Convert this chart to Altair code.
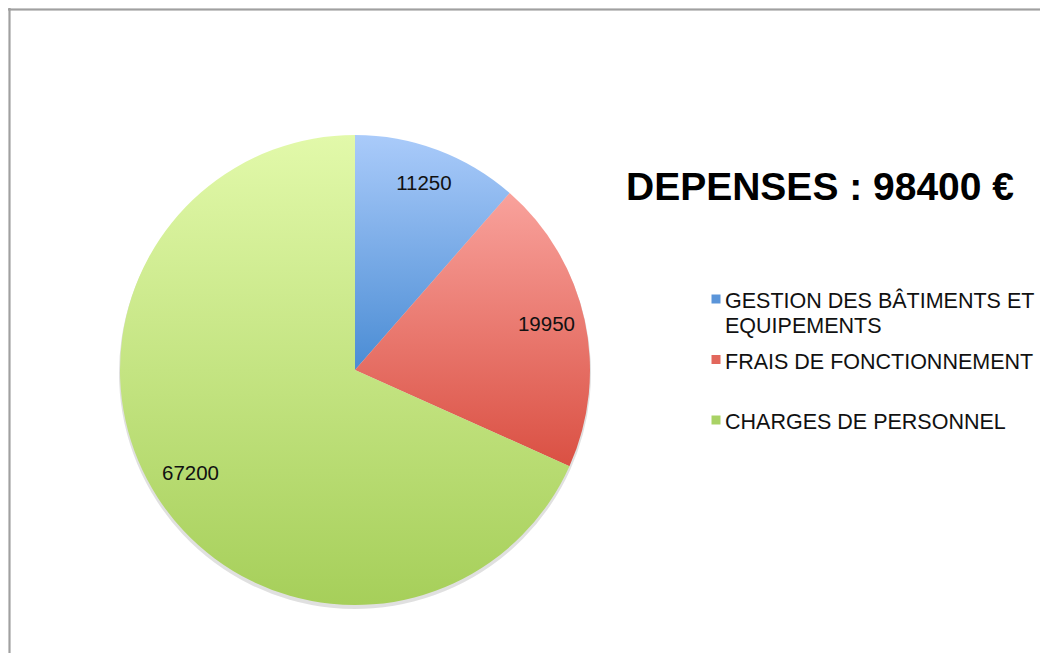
import altair as alt
import pandas as pd

categories = ["GESTION DES BÂTIMENTS ET EQUIPEMENTS", "FRAIS DE FONCTIONNEMENT", "CHARGES DE PERSONNEL"]
legend_line1 = ["GESTION DES BÂTIMENTS ET", "FRAIS DE FONCTIONNEMENT", "CHARGES DE PERSONNEL"]
legend_line2 = ["EQUIPEMENTS", "", ""]
values = [11250, 19950, 67200]
legend_colors = ["#5b95d9", "#e2675c", "#a9d265"]
top_colors = ["#aacbfa", "#f9a29c", "#e2f9aa"]
bottom_colors = ["#4a8cd4", "#da5043", "#a6cf5a"]
title_text = "DEPENSES : 98400 €"
total = 98400

W, H = 1032, 645
df = pd.DataFrame({
    "cat": categories,
    "line1": legend_line1,
    "line2": legend_line2,
    "value": values,
    "order": list(range(len(values))),
})

CX, CY, R = 347, 362, 235
theta_scale = alt.Scale(domain=[0, total])
color_scale = alt.Scale(domain=categories, range=legend_colors)

base = (
    alt.Chart(df)
    .transform_window(cum="sum(value)", sort=[alt.SortField("order")], frame=[None, 0])
    .transform_calculate(start="datum.cum - datum.value", mid="datum.cum - datum.value / 2")
)

shadow = base.mark_arc(x=CX, y=CY + 3, radius=R + 1, color="#000000", opacity=0.12).encode(
    theta=alt.Theta("start:Q", scale=theta_scale), theta2="cum:Q"
)

grad_layers = []
for i in range(len(values)):
    grad = alt.LinearGradient(
        gradient="linear",
        stops=[
            alt.GradientStop(offset=0, color=top_colors[i]),
            alt.GradientStop(offset=1, color=bottom_colors[i]),
        ],
        x1=0, x2=0, y1=0, y2=1,
    )
    grad_layers.append(
        base.transform_filter(alt.datum.order == i)
        .mark_arc(x=CX, y=CY, radius=R, fill=grad)
        .encode(theta=alt.Theta("start:Q", scale=theta_scale), theta2="cum:Q")
    )

labels = base.mark_text(x=CX, y=CY, dy=-3, radius=196, fontSize=20.5, font="Liberation Sans", color="#111111").encode(
    theta=alt.Theta("mid:Q", scale=theta_scale),
    text=alt.Text("value:Q", format="d"),
)

# custom legend
leg_y = alt.Y("cat:N", scale=alt.Scale(type="point", domain=categories, range=[294, 415], padding=0), axis=None)
leg_sym = alt.Chart(df).mark_square(x=708, yOffset=-3, size=81, opacity=1, strokeWidth=0).encode(
    y=leg_y,
    color=alt.Color("cat:N", scale=color_scale, legend=None),
)
leg_txt1 = alt.Chart(df).mark_text(
    x=717, align="left", baseline="middle", fontSize=21.5, font="Liberation Sans", color="#111111"
).encode(y=leg_y, text="line1:N")
leg_txt2 = alt.Chart(df).mark_text(
    x=717, dy=25, align="left", baseline="middle", fontSize=21.5, font="Liberation Sans", color="#111111"
).encode(y=leg_y, text="line2:N")

title = alt.Chart(pd.DataFrame({"t": [title_text]})).mark_text(
    x=812, y=180, fontSize=39, fontWeight="bold", font="Liberation Sans", color="#000000"
).encode(text="t:N")

frame_left = alt.Chart(df).mark_rule(color="#a0a0a0", strokeWidth=1.5).encode(
    x=alt.value(1.5), y=alt.value(0), y2=alt.value(H + 20)
)
frame_top = alt.Chart(df).mark_rule(color="#a0a0a0", strokeWidth=1.5).encode(
    y=alt.value(1.5), x=alt.value(0), x2=alt.value(W + 20)
)

chart = (
    alt.layer(shadow, *grad_layers, labels, leg_sym, leg_txt1, leg_txt2, title, frame_left, frame_top)
    .properties(width=W, height=H, autosize=alt.AutoSizeParams(type="none"), padding=0)
    .configure_view(stroke=None)
)

chart.save("out.html", embed_options={"renderer": "svg", "actions": False})
